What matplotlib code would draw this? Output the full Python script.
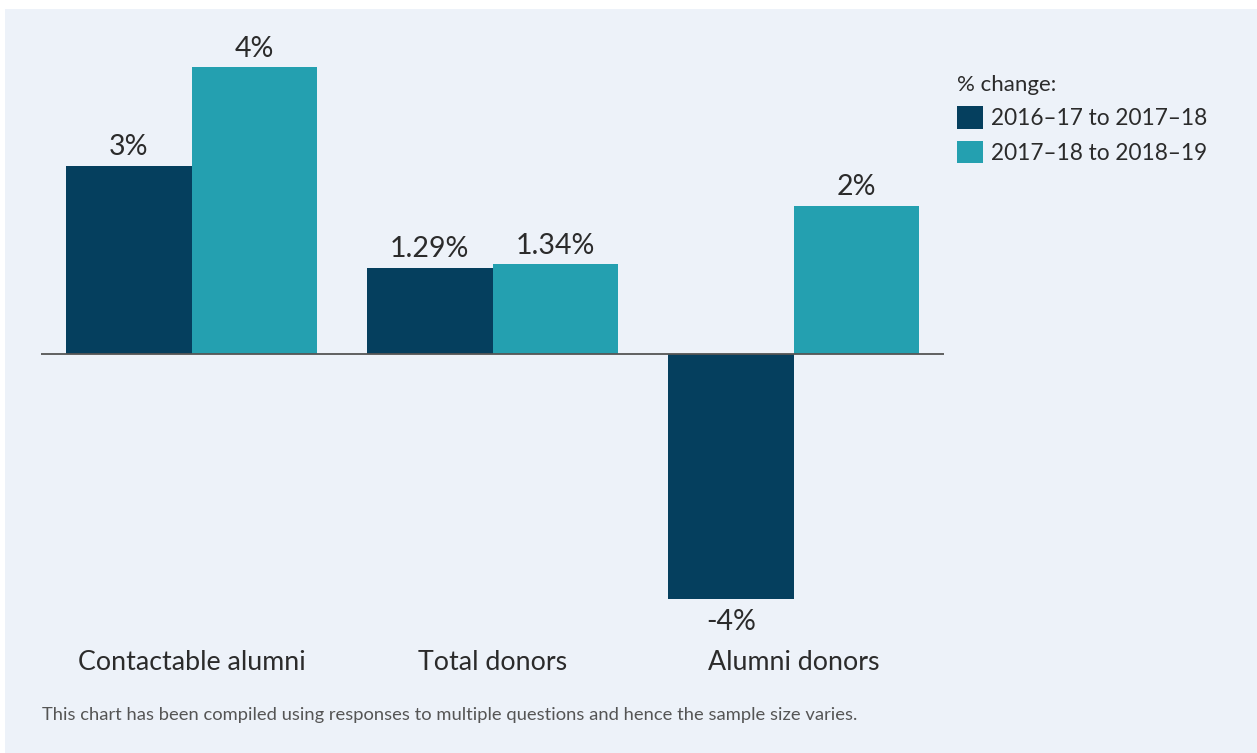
import matplotlib
matplotlib.use("Agg")
import matplotlib.pyplot as plt
import matplotlib.transforms as mtransforms
from matplotlib.patches import Rectangle, Patch
import numpy as np

categories = ["Contactable alumni", "Total donors", "Alumni donors"]
series_names = ["2016\u201317 to 2017\u201318", "2017\u201318 to 2018\u201319"]
values_1 = [2.81, 1.29, -3.66]
values_2 = [4.28, 1.34, 2.21]
labels_1 = ["3%", "1.29%", "-4%"]
labels_2 = ["4%", "1.34%", "2%"]
legend_title = "% change:"
footnote = "This chart has been compiled using responses to multiple questions and hence the sample size varies."

colors = ["#053f5e", "#24a0b0"]
bg = "#edf2f9"
text_col = "#2b2b2b"

plt.rcParams['font.family'] = ['Lato', 'DejaVu Sans']

W, H = 1257, 753
fig = plt.figure(figsize=(W / 100, H / 100), dpi=100)
fig.patch.set_facecolor("white")
fig.patches.append(Rectangle((5 / W, 0), (W - 5) / W, (H - 9) / H,
                             transform=fig.transFigure, facecolor=bg,
                             edgecolor="none", zorder=-10))

# axes placement in pixels
ax_left, ax_right = 41, 944
zero_px = 354
ppu = 67.0
ax_top, ax_bot = 30, 620
ax = fig.add_axes([ax_left / W, 1 - ax_bot / H, (ax_right - ax_left) / W, (ax_bot - ax_top) / H])
ax.set_facecolor("none")
ax.set_xlim(-0.5, 2.5)
ax.set_ylim(-(ax_bot - zero_px) / ppu, (zero_px - ax_top) / ppu)
for s in ax.spines.values():
    s.set_visible(False)
ax.set_xticks([])
ax.set_yticks([])

x = np.arange(len(categories))
bw = 0.416
b1 = ax.bar(x - bw / 2, values_1, bw, color=colors[0], label=series_names[0], zorder=2)
b2 = ax.bar(x + bw / 2, values_2, bw, color=colors[1], label=series_names[1], zorder=2)
ax.axhline(0, color="#555555", lw=1.3, zorder=3)

for bars, vals, labs in ((b1, values_1, labels_1), (b2, values_2, labels_2)):
    for r, v, lab in zip(bars, vals, labs):
        cx = r.get_x() + r.get_width() / 2
        if v >= 0:
            ax.annotate(lab, (cx, v), xytext=(0, 4), textcoords="offset points",
                        ha="center", va="bottom", fontsize=20.5, color=text_col)
        else:
            ax.annotate(lab, (cx, v), xytext=(0, -7), textcoords="offset points",
                        ha="center", va="top", fontsize=20.5, color=text_col)

trans = mtransforms.blended_transform_factory(ax.transData, fig.transFigure)
for i, c in enumerate(categories):
    ax.text(i, 1 - 662 / H, c, transform=trans, ha="center", va="center",
            fontsize=19.3, color=text_col)

fig.text(42 / W, 1 - 715 / H, footnote, ha="left", va="center", fontsize=13.2, color="#555555")

handles = [Patch(facecolor=colors[0]), Patch(facecolor=colors[1])]
leg = fig.legend(handles, series_names, title=legend_title, loc="upper left",
                 bbox_to_anchor=(948 / W, 1 - 66 / H), frameon=False,
                 fontsize=16.3, title_fontsize=16, alignment="left",
                 handlelength=1.15, handleheight=1.15, handletextpad=0.35,
                 labelspacing=0.5, borderaxespad=0)
for t in leg.get_texts():
    t.set_color(text_col)
leg.get_title().set_color(text_col)

fig.savefig("out.png", dpi=100, facecolor="white")
